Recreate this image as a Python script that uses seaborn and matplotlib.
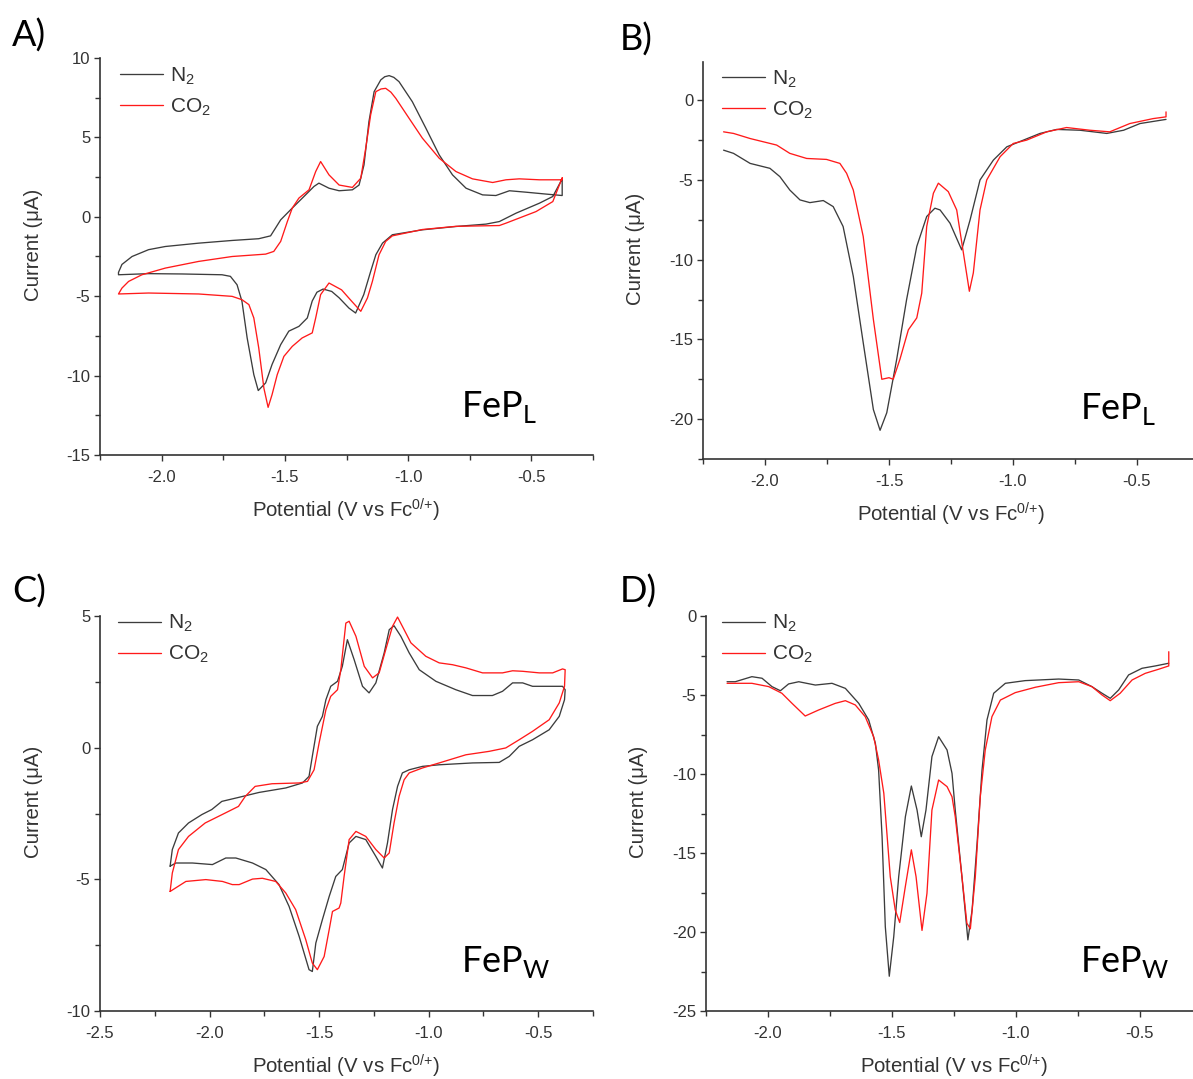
import numpy as np
import pandas as pd
import matplotlib
matplotlib.use("Agg")
import matplotlib.pyplot as plt
from matplotlib.ticker import MultipleLocator
import seaborn as sns

# ---------------- data ----------------
# Panel A: CV of FeP_L (closed loops)
A_N2_V = [-0.375, -0.413, -0.467, -0.562, -0.63, -0.684, -0.806, -0.942, -1.064, -1.104, -1.131, -1.152, -1.18,
          -1.213, -1.24, -1.28, -1.31, -1.345, -1.37, -1.389, -1.409, -1.443, -1.484, -1.517, -1.552, -1.578, -1.608,
          -1.626, -1.653, -1.674, -1.694, -1.721, -1.755, -1.917, -2.053, -2.175, -2.175, -2.161, -2.12, -2.053,
          -1.985, -1.85, -1.714, -1.606, -1.558, -1.538, -1.517, -1.47, -1.416, -1.382, -1.362, -1.321, -1.28,
          -1.226, -1.199, -1.179, -1.159, -1.138, -1.111, -1.095, -1.077, -1.058, -1.037, -0.983, -0.928, -0.874,
          -0.82, -0.765, -0.698, -0.644, -0.589, -0.522, -0.44, -0.375, -0.375]
A_N2_I = [2.39, 1.28, 0.86, 0.23, -0.3, -0.46, -0.61, -0.82, -1.13, -1.66, -2.39, -3.44, -4.9, -6.06, -5.75, -5.1,
          -4.7, -4.55, -4.75, -5.3, -6.37, -6.9, -7.2, -8.05, -9.3, -10.46, -10.94, -9.94, -7.63, -5.33, -4.28, -3.75,
          -3.65, -3.6, -3.58, -3.65, -3.5, -3.0, -2.5, -2.07, -1.87, -1.66, -1.49, -1.38, -1.2, -0.71, -0.19, 0.55,
          1.38, 1.91, 2.12, 1.8, 1.64, 1.70, 2.0, 3.27, 5.99, 7.88, 8.62, 8.82, 8.89, 8.78, 8.51, 7.25, 5.58, 3.9,
          2.64, 1.8, 1.38, 1.34, 1.64, 1.55, 1.43, 1.34, 2.39]
A_CO2_V = [-0.375, -0.413, -0.481, -0.603, -0.63, -0.806, -0.942, -1.064, -1.091, -1.118, -1.145, -1.165, -1.192,
           -1.23, -1.27, -1.321, -1.355, -1.375, -1.389, -1.43, -1.47, -1.504, -1.531, -1.552, -1.568, -1.585,
           -1.606, -1.626, -1.646, -1.674, -1.714, -1.85, -2.053, -2.175, -2.161, -2.134, -2.08, -1.985, -1.85,
           -1.714, -1.578, -1.545, -1.517, -1.49, -1.47, -1.443, -1.402, -1.375, -1.355, -1.321, -1.28, -1.226,
           -1.192, -1.172, -1.152, -1.131, -1.11, -1.091, -1.07, -1.05, -0.996, -0.942, -0.874, -0.806, -0.739,
           -0.657, -0.603, -0.549, -0.467, -0.375, -0.375]
A_CO2_I = [2.45, 0.96, 0.33, -0.4, -0.55, -0.6, -0.8, -1.2, -1.55, -2.39, -4.07, -5.11, -5.95, -5.3, -4.6, -4.17,
           -4.9, -6.37, -7.31, -7.63, -8.16, -8.79, -9.94, -11.2, -12.0, -10.8, -8.26, -6.37, -5.53, -5.22, -5.01,
           -4.86, -4.8, -4.86, -4.49, -4.07, -3.65, -3.23, -2.81, -2.5, -2.35, -2.18, -1.55, -0.3, 0.55, 1.18, 1.7,
           2.85, 3.48, 2.64, 2.0, 1.85, 2.43, 4.32, 6.42, 7.88, 8.05, 8.09, 7.85, 7.46, 6.2, 4.95, 3.69, 2.85, 2.39,
           2.16, 2.33, 2.39, 2.33, 2.33, 2.45]

# Panel B: sweep of FeP_L
B_N2_V = [-2.167, -2.127, -2.06, -1.98, -1.94, -1.9, -1.859, -1.819, -1.765, -1.725, -1.685, -1.644, -1.604,
          -1.563, -1.536, -1.509, -1.469, -1.429, -1.388, -1.348, -1.315, -1.294, -1.254, -1.207, -1.173, -1.133,
          -1.079, -1.025, -0.958, -0.891, -0.824, -0.73, -0.622, -0.554, -0.488, -0.383]
B_N2_I = [-3.13, -3.33, -3.96, -4.27, -4.79, -5.63, -6.25, -6.42, -6.29, -6.67, -7.92, -11.04, -15.2, -19.4,
          -20.7, -19.6, -16.25, -12.5, -9.17, -7.29, -6.77, -6.88, -7.71, -9.38, -7.5, -5.0, -3.75, -2.92, -2.5,
          -2.08, -1.83, -1.88, -2.08, -1.88, -1.46, -1.2]
B_CO2_V = [-2.167, -2.127, -2.06, -1.953, -1.9, -1.832, -1.752, -1.698, -1.671, -1.644, -1.604, -1.563, -1.529,
           -1.50, -1.483, -1.456, -1.422, -1.388, -1.368, -1.348, -1.321, -1.301, -1.261, -1.227, -1.2, -1.176,
           -1.16, -1.133, -1.106, -1.052, -0.999, -0.945, -0.864, -0.784, -0.69, -0.61, -0.529, -0.435, -0.383,
           -0.383]
B_CO2_I = [-1.98, -2.08, -2.4, -2.81, -3.33, -3.65, -3.71, -3.96, -4.58, -5.63, -8.54, -13.75, -17.5, -17.4,
           -17.5, -16.25, -14.4, -13.65, -12.1, -7.92, -5.83, -5.2, -5.73, -6.88, -9.58, -11.98, -10.83, -6.88,
           -5.0, -3.54, -2.71, -2.5, -1.98, -1.71, -1.88, -1.98, -1.46, -1.15, -1.04, -0.73]

# Panel C: CV of FeP_W (closed loops)
C_N2_V = [-2.18, -2.17, -2.142, -2.096, -2.035, -1.99, -1.944, -1.868, -1.774, -1.652, -1.576, -1.546, -1.531,
          -1.508, -1.485, -1.469, -1.447, -1.416, -1.394, -1.371, -1.34, -1.302, -1.272, -1.241, -1.203, -1.18,
          -1.158, -1.127, -1.089, -1.043, -0.967, -0.876, -0.8, -0.709, -0.663, -0.617, -0.571, -0.526, -0.389,
          -0.377, -0.38, -0.404, -0.45, -0.526, -0.587, -0.632, -0.678, -0.8, -0.952, -1.028, -1.089, -1.12,
          -1.142, -1.165, -1.188, -1.211, -1.241, -1.287, -1.332, -1.363, -1.394, -1.424, -1.454, -1.485, -1.515,
          -1.531, -1.546, -1.591, -1.637, -1.683, -1.743, -1.804, -1.88, -1.926, -1.987, -2.078, -2.154, -2.18]
C_N2_I = [-4.5, -3.87, -3.24, -2.86, -2.54, -2.35, -2.04, -1.89, -1.7, -1.53, -1.34, -1.09, -0.33, 0.81, 1.19,
          1.82, 2.33, 2.52, 3.09, 4.1, 3.34, 2.33, 2.08, 2.46, 3.6, 4.48, 4.63, 4.23, 3.6, 2.96, 2.52, 2.2, 1.98,
          1.98, 2.14, 2.46, 2.46, 2.33, 2.33, 2.2, 1.82, 1.19, 0.68, 0.3, 0.05, -0.33, -0.56, -0.58, -0.65, -0.71,
          -0.84, -0.96, -1.47, -2.35, -3.62, -4.57, -4.13, -3.49, -3.37, -3.62, -4.63, -4.89, -5.65, -6.53, -7.42,
          -8.5, -8.43, -7.17, -6.03, -5.2, -4.63, -4.38, -4.19, -4.19, -4.44, -4.38, -4.38, -4.5]
C_CO2_V = [-2.18, -2.17, -2.142, -2.096, -2.02, -1.928, -1.868, -1.837, -1.792, -1.715, -1.591, -1.553, -1.523,
           -1.5, -1.469, -1.447, -1.416, -1.401, -1.378, -1.363, -1.332, -1.294, -1.256, -1.226, -1.196, -1.165,
           -1.142, -1.112, -1.081, -1.013, -0.952, -0.891, -0.83, -0.754, -0.663, -0.617, -0.571, -0.495, -0.434,
           -0.389, -0.377, -0.38, -0.404, -0.45, -0.526, -0.587, -0.648, -0.724, -0.83, -0.952, -1.028, -1.089,
           -1.112, -1.135, -1.158, -1.18, -1.203, -1.241, -1.287, -1.332, -1.363, -1.386, -1.401, -1.409, -1.439,
           -1.454, -1.477, -1.508, -1.531, -1.561, -1.607, -1.652, -1.698, -1.759, -1.804, -1.865, -1.896, -1.941,
           -2.017, -2.108, -2.18]
C_CO2_I = [-5.46, -4.76, -3.87, -3.37, -2.86, -2.48, -2.23, -1.85, -1.47, -1.37, -1.34, -1.28, -0.84, 0.18, 1.44,
           1.95, 2.2, 2.96, 4.73, 4.8, 4.23, 3.09, 2.65, 2.84, 3.72, 4.61, 4.96, 4.48, 3.98, 3.47, 3.22, 3.15, 3.03,
           2.84, 2.84, 2.92, 2.9, 2.84, 2.84, 2.99, 2.96, 2.33, 1.7, 1.06, 0.62, 0.3, -0.01, -0.14, -0.27, -0.58,
           -0.77, -0.96, -1.22, -1.85, -2.86, -4.0, -4.19, -3.87, -3.37, -3.18, -3.49, -4.89, -5.9, -6.09, -6.22,
           -6.91, -7.93, -8.43, -8.18, -7.29, -6.15, -5.52, -5.08, -4.96, -4.99, -5.2, -5.2, -5.08, -5.01, -5.08,
           -5.46]

# Panel D: sweep of FeP_W
D_N2_V = [-2.165, -2.132, -2.065, -2.024, -1.984, -1.95, -1.917, -1.876, -1.809, -1.742, -1.688, -1.634, -1.594,
          -1.567, -1.554, -1.54, -1.527, -1.511, -1.493, -1.473, -1.446, -1.422, -1.399, -1.382, -1.363, -1.339,
          -1.312, -1.278, -1.258, -1.245, -1.218, -1.194, -1.177, -1.157, -1.137, -1.117, -1.09, -1.043, -0.963,
          -0.828, -0.747, -0.694, -0.653, -0.62, -0.586, -0.546, -0.492, -0.438, -0.384]
D_N2_I = [-4.16, -4.16, -3.84, -3.94, -4.47, -4.73, -4.3, -4.16, -4.37, -4.26, -4.58, -5.53, -6.58, -8.06, -9.75,
          -13.97, -19.66, -22.8, -20.3, -16.5, -12.7, -10.76, -12.28, -13.97, -12.28, -8.9, -7.64, -8.48, -9.96,
          -12.28, -16.5, -20.5, -18.6, -14.4, -9.75, -6.58, -4.89, -4.26, -4.09, -3.99, -4.05, -4.47, -4.89, -5.21,
          -4.68, -3.73, -3.31, -3.16, -2.99]
D_CO2_V = [-2.165, -2.065, -1.997, -1.944, -1.903, -1.85, -1.796, -1.729, -1.688, -1.648, -1.608, -1.574, -1.554,
           -1.533, -1.507, -1.487, -1.469, -1.446, -1.422, -1.403, -1.379, -1.359, -1.339, -1.312, -1.278, -1.258,
           -1.245, -1.218, -1.198, -1.184, -1.164, -1.144, -1.124, -1.097, -1.063, -1.003, -0.922, -0.828, -0.747,
           -0.694, -0.653, -0.62, -0.58, -0.532, -0.479, -0.425, -0.384, -0.384]
D_CO2_I = [-4.26, -4.26, -4.47, -4.89, -5.53, -6.33, -5.95, -5.53, -5.36, -5.63, -6.37, -7.64, -9.11, -11.22,
           -16.5, -18.6, -19.4, -17.1, -14.8, -16.5, -19.9, -17.55, -12.28, -10.38, -10.8, -11.44, -12.7, -16.5,
           -19.45, -19.8, -16.5, -11.44, -8.48, -6.37, -5.32, -4.85, -4.51, -4.22, -4.16, -4.47, -5.0, -5.36, -4.89,
           -4.05, -3.63, -3.37, -3.16, -2.26]

series_labels = ["N$_\\mathregular{2}$", "CO$_\\mathregular{2}$"]
panel_letters = ["A)", "B)", "C)", "D)"]
panel_names = ["FeP$_\\mathregular{L}$", "FeP$_\\mathregular{L}$", "FeP$_\\mathregular{W}$", "FeP$_\\mathregular{W}$"]
xlabel_text = "Potential (V vs Fc$^\\mathregular{0/{+}}$)"
ylabel_text = "Current (\u03bcA)"

# ---------------- style ----------------
sns.set_theme(style="ticks")
plt.rcParams["font.family"] = ["Liberation Sans", "DejaVu Sans"]
plt.rcParams["mathtext.fontset"] = "custom"
plt.rcParams["mathtext.rm"] = "Liberation Sans"
TXT = "#333333"
palette = {series_labels[0]: "#3c3c3c", series_labels[1]: "#ff1a1a"}

W, H = 1193, 1079
fig = plt.figure(figsize=(W / 100, H / 100), dpi=100)


def px_axes(left, top, right, bottom):
    return fig.add_axes([left / W, 1 - bottom / H, (right - left) / W, (bottom - top) / H])


axes = [
    px_axes(100, 58, 593, 455),
    px_axes(703, 62, 1199, 459),
    px_axes(100, 616, 593, 1011),
    px_axes(706, 616, 1202, 1011),
]

panels = [
    (A_N2_V, A_N2_I, A_CO2_V, A_CO2_I),
    (B_N2_V, B_N2_I, B_CO2_V, B_CO2_I),
    (C_N2_V, C_N2_I, C_CO2_V, C_CO2_I),
    (D_N2_V, D_N2_I, D_CO2_V, D_CO2_I),
]
xlims = [(-2.25, -0.25), (-2.25, -0.25), (-2.5, -0.25), (-2.25, -0.25)]
ylims = [(-15, 10), (-22.5, 2.4), (-10, 5), (-25, 0)]
name_pos = [(0.732, 0.095), (0.76, 0.1), (0.733, 0.1), (0.754, 0.1)]
leg_anchor = [(0.04, 0.982), (0.038, 0.985), (0.036, 1.008), (0.032, 1.008)]
letter_pos = [(12, 47), (620, 51), (12, 603), (620, 603)]

for i, ax in enumerate(axes):
    n2v, n2i, cov, coi = panels[i]
    df = pd.DataFrame({
        "V": list(n2v) + list(cov),
        "I": list(n2i) + list(coi),
        "gas": [series_labels[0]] * len(n2v) + [series_labels[1]] * len(cov),
    })
    sns.lineplot(data=df, x="V", y="I", hue="gas", palette=palette, sort=False,
                 estimator=None, linewidth=0.95, ax=ax)
    ax.set_xlim(*xlims[i])
    ax.set_ylim(*ylims[i])
    ax.xaxis.set_major_locator(MultipleLocator(0.5))
    ax.xaxis.set_minor_locator(MultipleLocator(0.25))
    ax.yaxis.set_major_locator(MultipleLocator(5))
    ax.yaxis.set_minor_locator(MultipleLocator(2.5))
    ax.xaxis.set_major_formatter(matplotlib.ticker.FormatStrFormatter("%.1f"))
    ax.yaxis.set_major_formatter(matplotlib.ticker.FormatStrFormatter("%d"))
    ax.tick_params(which="major", direction="out", length=4.5, width=1.0, color=TXT,
                   labelsize=12, labelcolor=TXT, pad=2.5)
    ax.tick_params(axis="x", which="major", pad=6)
    ax.tick_params(which="minor", direction="out", length=3.5, width=1.0, color=TXT)
    for s in ["top", "right"]:
        ax.spines[s].set_visible(False)
    for s in ["left", "bottom"]:
        ax.spines[s].set_color(TXT)
        ax.spines[s].set_linewidth(1.2)
    ax.set_xlabel(xlabel_text, fontsize=14.7, color=TXT)
    ax.set_ylabel(ylabel_text, fontsize=14.7, color=TXT)
    ax.xaxis.set_label_coords(0.5, -0.105)
    ax.yaxis.set_label_coords(-0.116, 0.53)
    leg = ax.legend(loc="upper left", bbox_to_anchor=leg_anchor[i], frameon=False, fontsize=15,
                    borderpad=0, borderaxespad=0, handlelength=2.07, handletextpad=0.34,
                    labelspacing=0.45)
    for t in leg.get_texts():
        t.set_color(TXT)
    ax.text(name_pos[i][0], name_pos[i][1], panel_names[i], transform=ax.transAxes,
            fontsize=26, family="Lato", color="black", ha="left", va="baseline")
    fig.text(letter_pos[i][0] / W, 1 - letter_pos[i][1] / H, panel_letters[i], fontsize=26,
             family="Lato", color="black", ha="left", va="baseline")

fig.savefig("out.png", dpi=100)
